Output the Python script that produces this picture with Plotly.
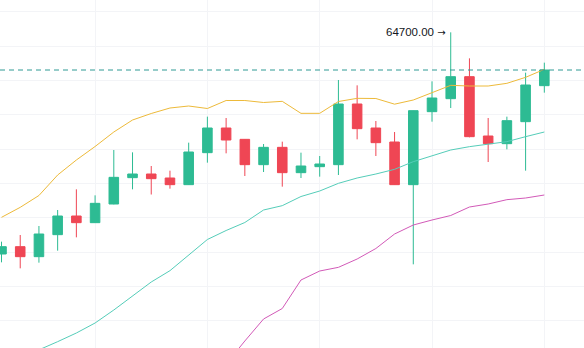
import plotly.graph_objects as go

# candle index (daily bars)
idx = list(range(30))

opens = [51400, 51840, 51240, 52560, 53680, 53280, 54400, 55980, 56200, 55960,
         55560, 57480, 58960, 58280, 56760, 57800, 56280, 56640, 56760, 60400,
         58960, 58120, 55560, 59940, 60720, 62040, 58480, 58020, 59340, 61500]
highs = [52140, 52540, 53080, 54040, 55280, 54920, 57640, 57500, 56680, 56400,
         58080, 59640, 59560, 58300, 58000, 58140, 57480, 57280, 61840, 61520,
         59380, 58720, 60010, 61760, 64700, 63140, 59560, 59640, 62280, 62880]
lows = [50900, 50540, 50880, 51600, 52400, 53260, 54380, 55280, 54970, 55320,
        55540, 56880, 57440, 56080, 56320, 55440, 55960, 56040, 56140, 58280,
        57280, 55540, 50780, 59340, 60160, 58400, 56920, 57680, 56400, 61080]
closes = [51840, 51240, 52600, 53680, 53280, 54440, 56000, 56200, 55920, 55560,
          57520, 58960, 58240, 56760, 57800, 56280, 56680, 56800, 60400, 58920,
          58080, 55560, 60000, 60760, 62040, 58440, 58020, 59400, 61540, 62440]

ma_fast = [53600, 54200, 54910, 56140, 57040, 57850, 58720, 59440, 59830, 60160,
           60280, 60130, 60610, 60610, 60490, 60560, 59840, 59840, 60550, 60740,
           60730, 60390, 60640, 61080, 61520, 61480, 61480, 61640, 62000, 62480]
ma_mid = [None, 45160, 45640, 46140, 46660, 47260, 48040, 48880, 49720, 50400,
          51310, 52270, 52810, 53290, 54040, 54300, 54850, 55180, 55640, 55960,
          56200, 56480, 56940, 57300, 57640, 57840, 58000, 58140, 58440, 58720]
ma_slow = [None, None, None, None, None, None, None, None, None, None,
           None, 43540, 44800, 46180, 47500, 48130, 49840, 50380, 50600, 51100,
           51730, 52600, 53140, 53440, 53710, 54220, 54400, 54660, 54760, 54940]

high_label = "64700.00"
arrow = "→"

UP = "#2DBB93"
DOWN = "#EF4654"

fig = go.Figure()

fig.add_trace(go.Scatter(x=idx, y=ma_slow, mode="lines",
                         line=dict(color="#D25AB8", width=1), hoverinfo="skip"))
fig.add_trace(go.Scatter(x=idx, y=ma_mid, mode="lines",
                         line=dict(color="#55CDB9", width=1), hoverinfo="skip"))
fig.add_trace(go.Scatter(x=idx, y=ma_fast, mode="lines",
                         line=dict(color="#EDBA3A", width=1), hoverinfo="skip"))

fig.add_trace(go.Candlestick(
    x=idx, open=opens, high=highs, low=lows, close=closes,
    increasing=dict(line=dict(color=UP, width=1), fillcolor=UP),
    decreasing=dict(line=dict(color=DOWN, width=1), fillcolor=DOWN),
    whiskerwidth=0,
))

# last price line
fig.add_hline(y=closes[-1], line=dict(color="#2E9A94", width=1, dash="5px,4px"))

# highest high annotation
imax = highs.index(max(highs))
fig.add_annotation(x=idx[imax], y=highs[imax],
                   text=high_label + ' <span style="font-family:DejaVu Sans;font-size:10px">' + arrow + '</span>',
                   showarrow=False, xanchor="right", yanchor="middle", xshift=-3,
                   font=dict(family="Liberation Sans, Arial, sans-serif", size=11.5, color="#131722"))

fig.update_layout(
    width=584, height=348,
    margin=dict(l=0, r=0, t=0, b=0),
    paper_bgcolor="white", plot_bgcolor="white",
    showlegend=False,
    boxgap=0.27,
    xaxis=dict(range=[-0.08, 31.12], rangeslider=dict(visible=False),
               tickvals=[5, 11, 17, 23, 29], showticklabels=False,
               showgrid=True, gridcolor="#F3F4F7", gridwidth=1,
               zeroline=False, showline=False, ticks=""),
    yaxis=dict(range=[45760, 66640], tick0=65938, dtick=2060,
               showticklabels=False, showgrid=True, gridcolor="#F3F4F7",
               gridwidth=1, zeroline=False, showline=False, ticks=""),
)

fig.write_html("out.html")
